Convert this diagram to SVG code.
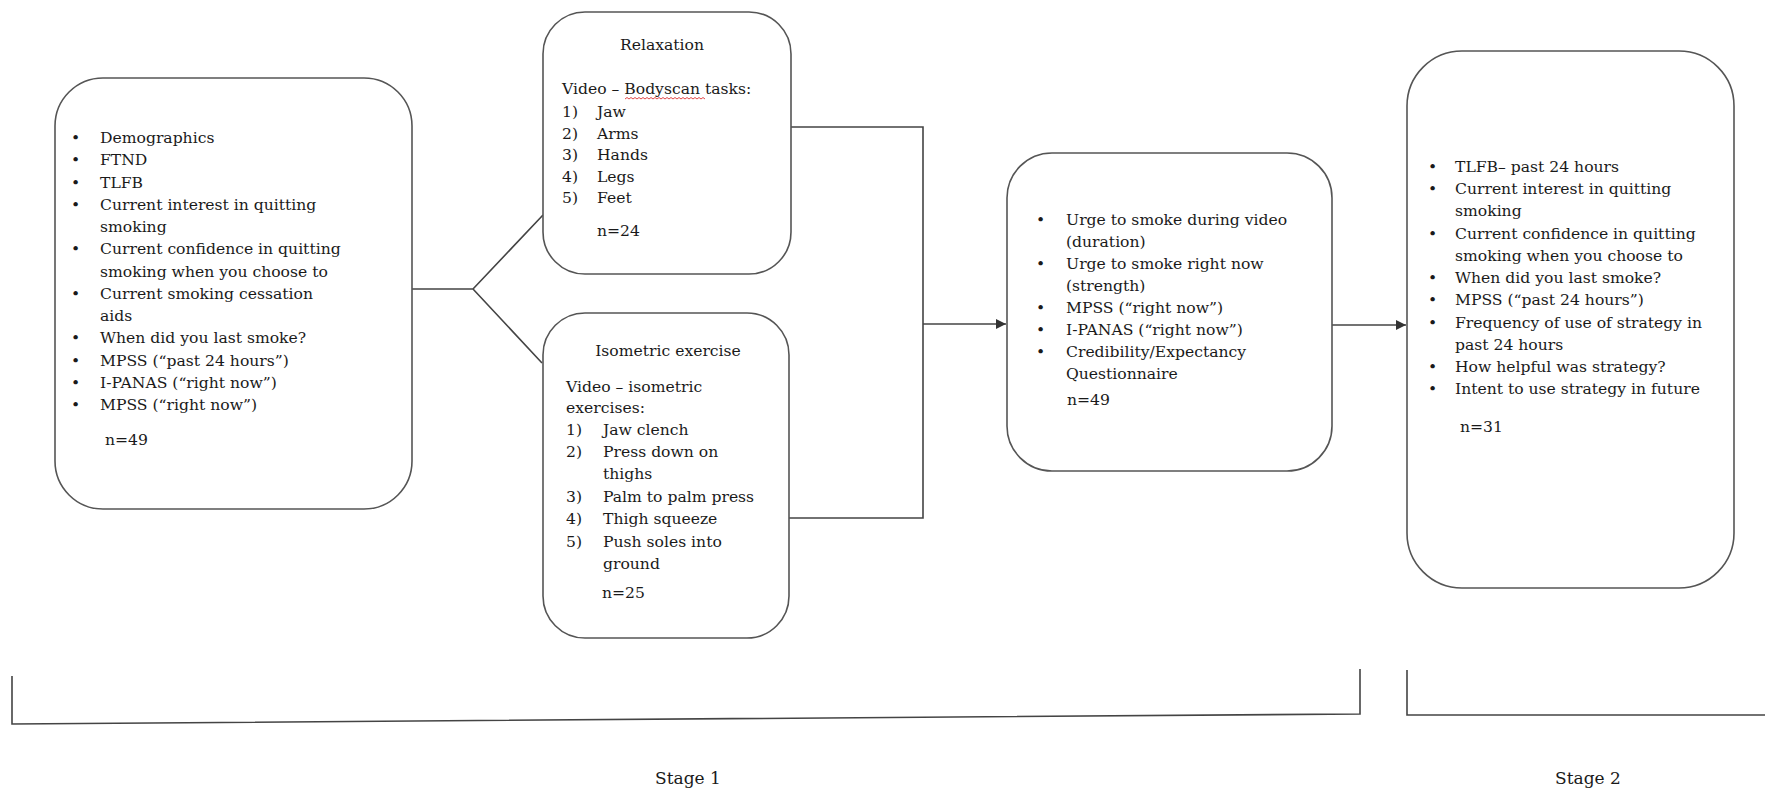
<svg xmlns="http://www.w3.org/2000/svg" width="1765" height="792" viewBox="0 0 1765 792">
<style>
.box{fill:#fff;stroke:#555;stroke-width:1.6}
.ln{fill:none;stroke:#444;stroke-width:1.6}
text{font-family:"DejaVu Serif","Liberation Serif",serif;font-size:15.6px;fill:#1a1a1a}
.st{font-size:17px}
</style>
<defs>
<marker id="arr" viewBox="0 0 10 10" refX="10" refY="5" markerWidth="10" markerHeight="10" markerUnits="userSpaceOnUse" orient="auto">
<path d="M0,0 L10,5 L0,10 z" fill="#333"/>
</marker>
</defs>
<rect width="1765" height="792" fill="#fff"/>

<g id="connectors">
<path class="ln" d="M412,289 L473,289 L543,215 M473,289 L542,363"/>
<path class="ln" d="M790,127 L923,127 L923,518 L788,518"/>
<path class="ln" d="M923,324 L1006,324" marker-end="url(#arr)"/>
<path class="ln" d="M1332,325 L1406,325" marker-end="url(#arr)"/>
</g>

<g id="baseline-measures">
<rect class="box" x="55" y="78" width="357" height="431" rx="48"/>
<text x="71" y="143">•</text><text x="100" y="143">Demographics</text>
<text x="71" y="165">•</text><text x="100" y="165">FTND</text>
<text x="71" y="188">•</text><text x="100" y="188">TLFB</text>
<text x="71" y="210">•</text><text x="100" y="210">Current interest in quitting</text>
<text x="100" y="232">smoking</text>
<text x="71" y="254">•</text><text x="100" y="254">Current confidence in quitting</text>
<text x="100" y="277">smoking when you choose to</text>
<text x="71" y="299">•</text><text x="100" y="299">Current smoking cessation</text>
<text x="100" y="321">aids</text>
<text x="71" y="343">•</text><text x="100" y="343">When did you last smoke?</text>
<text x="71" y="366">•</text><text x="100" y="366">MPSS (“past 24 hours”)</text>
<text x="71" y="388">•</text><text x="100" y="388">I-PANAS (“right now”)</text>
<text x="71" y="410">•</text><text x="100" y="410">MPSS (“right now”)</text>
<text x="105" y="445">n=49</text>
</g>

<g id="relaxation">
<rect class="box" x="543" y="12" width="248" height="262" rx="42"/>
<text x="662" y="50" text-anchor="middle">Relaxation</text>
<text x="562" y="94">Video – Bodyscan tasks:</text>
<path d="M625,99 l2,-1.5 l2,1.5 l2,-1.5 l2,1.5 l2,-1.5 l2,1.5 l2,-1.5 l2,1.5 l2,-1.5 l2,1.5 l2,-1.5 l2,1.5 l2,-1.5 l2,1.5 l2,-1.5 l2,1.5 l2,-1.5 l2,1.5 l2,-1.5 l2,1.5 l2,-1.5 l2,1.5 l2,-1.5 l2,1.5 l2,-1.5 l2,1.5 l2,-1.5 l2,1.5 l2,-1.5 l2,1.5 l2,-1.5 l2,1.5 l2,-1.5 l2,1.5 l2,-1.5 l2,1.5 l2,-1.5 l2,1.5 l2,-1.5 l2,1.5" fill="none" stroke="#d33" stroke-width="0.9"/>
<text x="562" y="117">1)</text><text x="597" y="117">Jaw</text>
<text x="562" y="139">2)</text><text x="597" y="139">Arms</text>
<text x="562" y="160">3)</text><text x="597" y="160">Hands</text>
<text x="562" y="182">4)</text><text x="597" y="182">Legs</text>
<text x="562" y="203">5)</text><text x="597" y="203">Feet</text>
<text x="597" y="236">n=24</text>
</g>

<g id="isometric">
<rect class="box" x="543" y="313" width="246" height="325" rx="42"/>
<text x="668" y="356" text-anchor="middle">Isometric exercise</text>
<text x="566" y="392">Video – isometric</text>
<text x="566" y="413">exercises:</text>
<text x="566" y="435">1)</text><text x="603" y="435">Jaw clench</text>
<text x="566" y="457">2)</text><text x="603" y="457">Press down on</text>
<text x="603" y="479">thighs</text>
<text x="566" y="502">3)</text><text x="603" y="502">Palm to palm press</text>
<text x="566" y="524">4)</text><text x="603" y="524">Thigh squeeze</text>
<text x="566" y="547">5)</text><text x="603" y="547">Push soles into</text>
<text x="603" y="569">ground</text>
<text x="602" y="598">n=25</text>
</g>

<g id="post-video">
<rect class="box" x="1007" y="153" width="325" height="318" rx="45"/>
<text x="1036" y="225">•</text><text x="1066" y="225">Urge to smoke during video</text>
<text x="1066" y="247">(duration)</text>
<text x="1036" y="269">•</text><text x="1066" y="269">Urge to smoke right now</text>
<text x="1066" y="291">(strength)</text>
<text x="1036" y="313">•</text><text x="1066" y="313">MPSS (“right now”)</text>
<text x="1036" y="335">•</text><text x="1066" y="335">I-PANAS (“right now”)</text>
<text x="1036" y="357">•</text><text x="1066" y="357">Credibility/Expectancy</text>
<text x="1066" y="379">Questionnaire</text>
<text x="1067" y="405">n=49</text>
</g>

<g id="stage2-measures">
<rect class="box" x="1407" y="51" width="327" height="537" rx="55"/>
<text x="1428" y="172">•</text><text x="1455" y="172">TLFB– past 24 hours</text>
<text x="1428" y="194">•</text><text x="1455" y="194">Current interest in quitting</text>
<text x="1455" y="216">smoking</text>
<text x="1428" y="239">•</text><text x="1455" y="239">Current confidence in quitting</text>
<text x="1455" y="261">smoking when you choose to</text>
<text x="1428" y="283">•</text><text x="1455" y="283">When did you last smoke?</text>
<text x="1428" y="305">•</text><text x="1455" y="305">MPSS (“past 24 hours”)</text>
<text x="1428" y="328">•</text><text x="1455" y="328">Frequency of use of strategy in</text>
<text x="1455" y="350">past 24 hours</text>
<text x="1428" y="372">•</text><text x="1455" y="372">How helpful was strategy?</text>
<text x="1428" y="394">•</text><text x="1455" y="394">Intent to use strategy in future</text>
<text x="1460" y="432">n=31</text>
</g>

<g id="stage1-bracket">
<path class="ln" d="M12,676 L12,724 L1360,714 L1360,669"/>
<text class="st" x="688" y="784" text-anchor="middle">Stage 1</text>
</g>

<g id="stage2-bracket">
<path class="ln" d="M1407,670 L1407,715 L1765,715"/>
<text class="st" x="1588" y="784" text-anchor="middle">Stage 2</text>
</g>
</svg>
